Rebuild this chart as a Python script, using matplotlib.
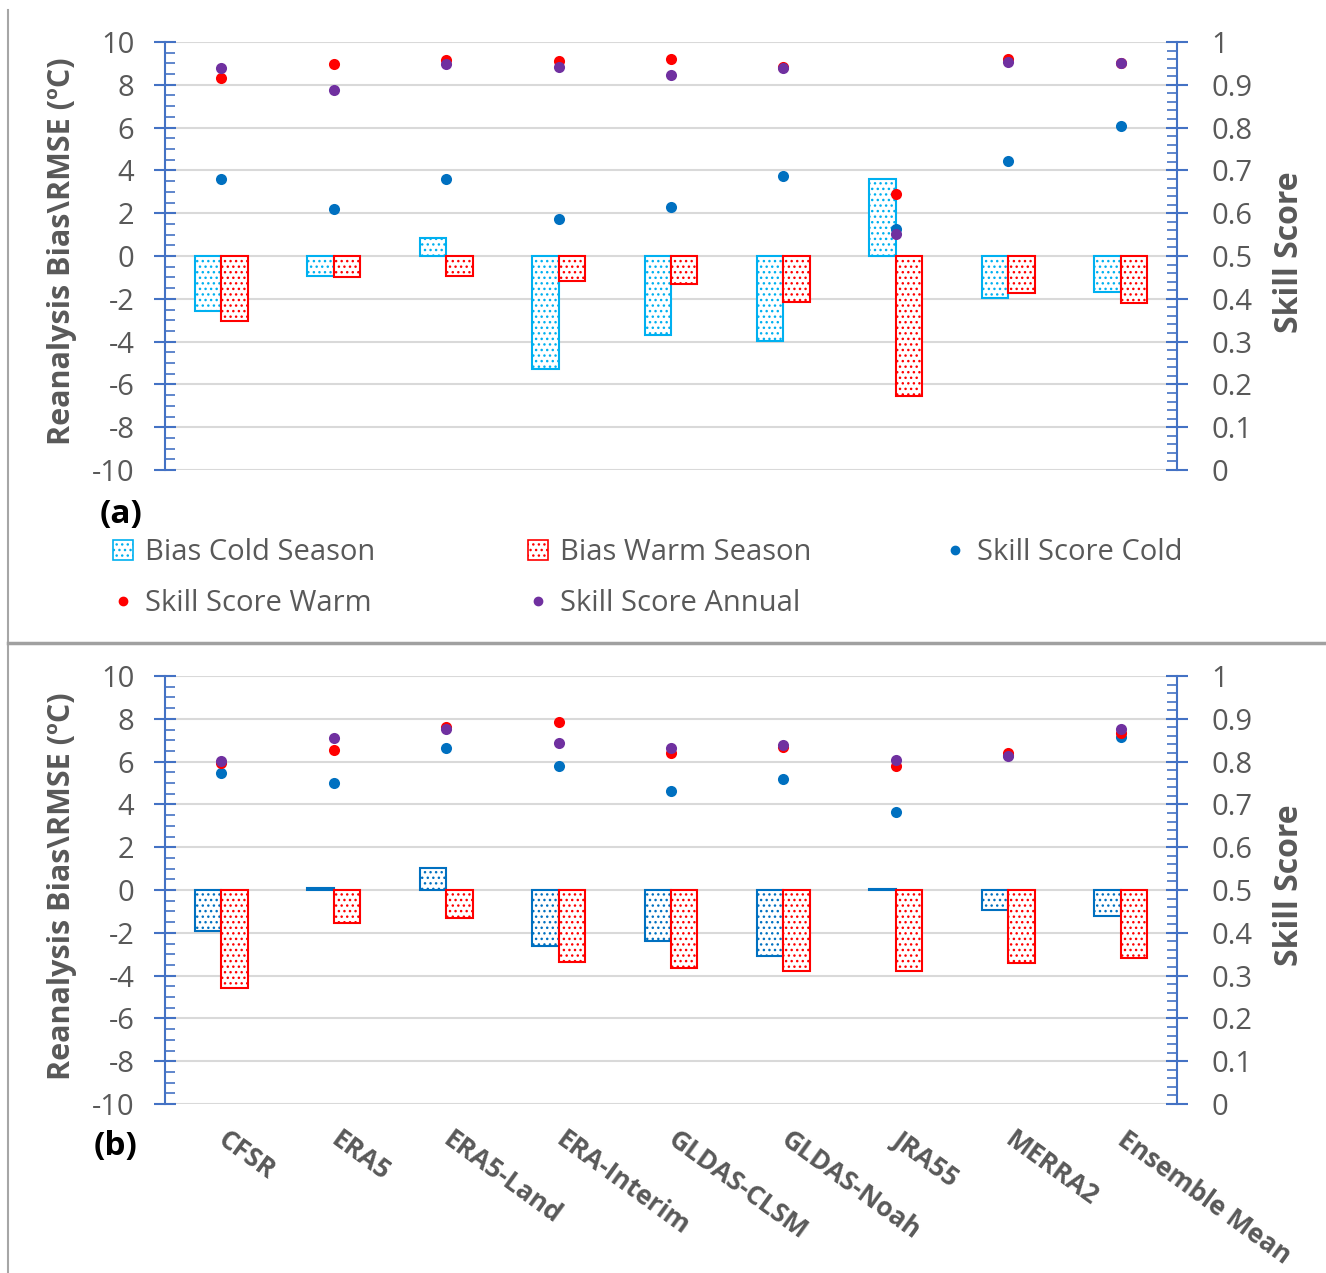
import numpy as np
import matplotlib
matplotlib.use('Agg')
import matplotlib.pyplot as plt
from matplotlib.patches import Patch
from matplotlib.lines import Line2D
from matplotlib.ticker import MultipleLocator

plt.rcParams['font.family'] = ['Open Sans', 'DejaVu Sans']
plt.rcParams['hatch.linewidth'] = 1.0
plt.rcParams['axes.unicode_minus'] = False

# --- datos ---
modelos = ['CFSR', 'ERA5', 'ERA5-Land', 'ERA-Interim', 'GLDAS-CLSM',
           'GLDAS-Noah', 'JRA55', 'MERRA2', 'Ensemble Mean']

# panel (a)
a_bias_cold = [-2.55, -0.95, 0.85, -5.3, -3.7, -3.95, 3.6, -1.95, -1.7]
a_bias_warm = [-3.05, -1.0, -0.95, -1.15, -1.3, -2.15, -6.55, -1.75, -2.2]
a_ss_cold = [0.68, 0.61, 0.68, 0.586, 0.614, 0.687, 0.564, 0.722, 0.804]
a_ss_warm = [0.917, 0.949, 0.958, 0.956, 0.96, 0.942, 0.644, 0.96, 0.952]
a_ss_annual = [0.94, 0.889, 0.949, 0.941, 0.923, 0.939, 0.552, 0.953, 0.952]

# panel (b)
b_bias_cold = [-1.92, 0.1, 1.03, -2.6, -2.4, -3.1, 0.05, -0.93, -1.2]
b_bias_warm = [-4.6, -1.55, -1.3, -3.35, -3.65, -3.8, -3.8, -3.4, -3.2]
b_ss_cold = [0.773, 0.749, 0.831, 0.79, 0.731, 0.759, 0.683, 0.815, 0.858]
b_ss_warm = [0.796, 0.827, 0.881, 0.892, 0.82, 0.834, 0.79, 0.819, 0.866]
b_ss_annual = [0.802, 0.854, 0.876, 0.843, 0.832, 0.839, 0.804, 0.813, 0.876]

# --- estilos ---
GRIS = '#595959'
AZUL_EJE = '#4472C4'
C_CIAN = '#00B0F0'
C_AZUL = '#0070C0'
C_ROJO = '#FF0000'
C_MORADO = '#7030A0'
W, H = 1326, 1273
ancho = 0.235


def panel(ax, bias_cold, bias_warm, ss_cold, ss_warm, ss_ann, color_frio, etiquetas):
    x = np.arange(len(modelos))
    ax.bar(x - ancho / 2, bias_cold, ancho, facecolor='white', edgecolor=color_frio,
           hatch='...', linewidth=1.5, zorder=2)
    ax.bar(x + ancho / 2, bias_warm, ancho, facecolor='white', edgecolor=C_ROJO,
           hatch='...', linewidth=1.5, zorder=2)
    ax.set_xlim(-0.5, len(modelos) - 0.5)
    ax.set_ylim(-10, 10)
    ax.set_yticks(np.arange(-10, 11, 2))
    ax.yaxis.set_minor_locator(MultipleLocator(0.5))
    ax.yaxis.grid(True, color='#D9D9D9', linewidth=1.5)
    ax.set_axisbelow(True)
    for s in ['top', 'bottom', 'right']:
        ax.spines[s].set_visible(False)
    ax.spines['left'].set_color(AZUL_EJE)
    ax.spines['left'].set_linewidth(1.5)
    ax.tick_params(axis='y', which='major', direction='inout', length=16, width=1.5,
                   color=AZUL_EJE, labelsize=21, labelcolor=GRIS, pad=14)
    ax.tick_params(axis='y', which='minor', direction='in', length=7, width=1.2,
                   color=AZUL_EJE)
    if etiquetas:
        ax.set_xticks(x)
        ax.set_xticklabels(modelos, rotation=-36, ha='left', va='center',
                           rotation_mode='anchor', fontsize=19, fontweight='bold',
                           color=GRIS)
        ax.tick_params(axis='x', length=0, pad=24)
    else:
        ax.set_xticks([])

    ax2 = ax.twinx()
    ax2.scatter(x, ss_cold, s=64, color=C_AZUL, linewidths=0, zorder=3)
    ax2.scatter(x, ss_warm, s=64, color=C_ROJO, linewidths=0, zorder=4)
    ax2.scatter(x, ss_ann, s=64, color=C_MORADO, linewidths=0, zorder=5)
    ax2.set_ylim(0, 1)
    ticks = np.round(np.arange(0, 1.01, 0.1), 1)
    ax2.set_yticks(ticks)
    ax2.set_yticklabels([f'{t:g}' for t in ticks])
    ax2.yaxis.set_minor_locator(MultipleLocator(0.02))
    for s in ['top', 'bottom', 'left']:
        ax2.spines[s].set_visible(False)
    ax2.spines['right'].set_color(AZUL_EJE)
    ax2.spines['right'].set_linewidth(1.5)
    ax2.tick_params(axis='y', which='major', direction='inout', length=16, width=1.5,
                    color=AZUL_EJE, labelsize=21, labelcolor=GRIS, pad=17)
    ax2.tick_params(axis='y', which='minor', direction='in', length=7, width=1.2,
                    color=AZUL_EJE)
    return ax2


fig = plt.figure(figsize=(W / 100, H / 100), dpi=100)

izq = 165 / W
ancho_ax = (1177 - 165) / W
alto_ax = 428 / H
ax_a = fig.add_axes([izq, 1 - 470 / H, ancho_ax, alto_ax])
ax_b = fig.add_axes([izq, 1 - 1104 / H, ancho_ax, alto_ax])

panel(ax_a, a_bias_cold, a_bias_warm, a_ss_cold, a_ss_warm, a_ss_annual, C_CIAN, False)
panel(ax_b, b_bias_cold, b_bias_warm, b_ss_cold, b_ss_warm, b_ss_annual, C_AZUL, True)

# --- titulos de ejes ---
for yc in [251, 886]:
    fig.text(62 / W, 1 - yc / H, 'Reanalysis Bias\\RMSE (ºC)', rotation=90,
             ha='center', va='center', fontsize=22, fontweight='bold', color=GRIS)
for yc in [252, 885]:
    fig.text(1290 / W, 1 - yc / H, 'Skill Score', rotation=90,
             ha='center', va='center', fontsize=23, fontweight='bold', color=GRIS)

fig.text(121 / W, 1 - 515 / H, '(a)', ha='center', va='center', fontsize=24,
         fontweight='bold', color='black')
fig.text(116 / W, 1 - 1147 / H, '(b)', ha='center', va='center', fontsize=24,
         fontweight='bold', color='black')

# --- leyenda ---
h_bc = Patch(facecolor='white', edgecolor=C_CIAN, hatch='...', linewidth=1.2)
h_bw = Patch(facecolor='white', edgecolor=C_ROJO, hatch='...', linewidth=1.2)
h_sc = Line2D([], [], marker='o', ls='none', color=C_AZUL, markersize=6)
h_sw = Line2D([], [], marker='o', ls='none', color=C_ROJO, markersize=6)
h_sa = Line2D([], [], marker='o', ls='none', color=C_MORADO, markersize=6)

opciones = dict(loc='upper left', frameon=False, fontsize=21, labelcolor=GRIS,
                handlelength=0.7, handleheight=0.7, handletextpad=0.4,
                labelspacing=0.75, borderaxespad=0, borderpad=0)
fig.legend([h_bc, h_sw], ['Bias Cold Season', 'Skill Score Warm'],
           bbox_to_anchor=(113 / W, 1 - 538 / H), **opciones)
fig.legend([h_bw, h_sa], ['Bias Warm Season', 'Skill Score Annual'],
           bbox_to_anchor=(528 / W, 1 - 538 / H), **opciones)
fig.legend([h_sc], ['Skill Score Cold'],
           bbox_to_anchor=(945 / W, 1 - 538 / H), **opciones)

# --- marco ---
fig.add_artist(Line2D([8 / W, 8 / W], [0, 1 - 10 / H], transform=fig.transFigure,
                      color='#A6A6A6', linewidth=1.5))
fig.add_artist(Line2D([8 / W, 1], [1 - 643 / H, 1 - 643 / H], transform=fig.transFigure,
                      color='#A0A0A0', linewidth=2.5))

plt.savefig('out.png', dpi=100)
